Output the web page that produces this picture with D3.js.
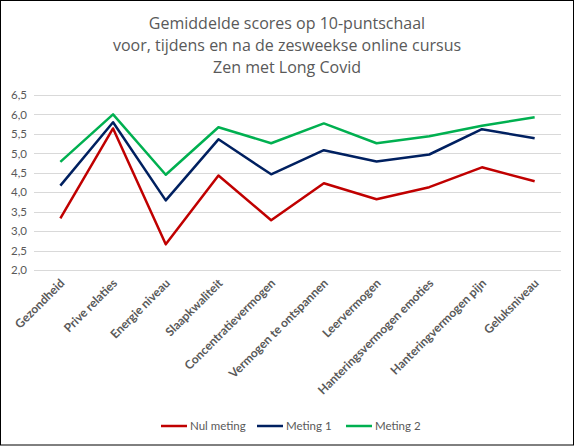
<!DOCTYPE html>
<html>
<head>
<meta charset="utf-8">
<script src="https://cdn.jsdelivr.net/npm/d3@7"></script>
<style>
  body { margin: 0; background: #fff; }
  svg { display: block; font-family: Lato, "Open Sans", sans-serif; }
</style>
</head>
<body>
<svg id="chart"></svg>
<script>
// data
const categories = ["Gezondheid", "Prive relaties", "Energie niveau", "Slaapkwaliteit",
  "Concentratievermogen", "Vermogen te ontspannen", "Leervermogen",
  "Hanteringsvermogen emoties", "Hanteringvermogen pijn", "Geluksniveau"]
const nulMeting = [3.33, 5.64, 2.66, 4.43, 3.28, 4.23, 3.82, 4.13, 4.64, 4.28]
const meting1 = [4.17, 5.80, 3.79, 5.36, 4.46, 5.08, 4.79, 4.97, 5.62, 5.39]
const meting2 = [4.78, 6.00, 4.45, 5.67, 5.26, 5.77, 5.26, 5.44, 5.71, 5.93]
const seriesNames = ["Nul meting", "Meting 1", "Meting 2"]
const yTicks = [2.0, 2.5, 3.0, 3.5, 4.0, 4.5, 5.0, 5.5, 6.0, 6.5]
const titleLines = ["Gemiddelde scores op 10-puntschaal",
  "voor, tijdens en na de zesweekse online cursus", "Zen met Long Covid"]

const colors = ["#C00000", "#002060", "#00B050"]
const series = [nulMeting, meting1, meting2]

const W = 575, H = 446
const plot = { left: 34, right: 561, top: 95, bottom: 270 }

const svg = d3.select("#chart").attr("width", W).attr("height", H)

svg.append("rect")
  .attr("x", 0.5).attr("y", 0.5).attr("width", 573).attr("height", 444.5)
  .attr("fill", "#fff").attr("stroke", "#000").attr("stroke-width", 1)

// title
svg.append("g").selectAll("text").data(titleLines).join("text")
  .attr("x", 287).attr("y", (d, i) => 29 + i * 22)
  .attr("text-anchor", "middle")
  .attr("fill", "#595959")
  .style("font-family", "'Open Sans', sans-serif")
  .style("font-size", "16px")
  .text(d => d)

const xScale = d3.scalePoint().domain(categories).range([plot.left, plot.right]).padding(0.5)
const yScale = d3.scaleLinear().domain([2, 6.5]).range([plot.bottom, plot.top])

// gridlines
svg.append("g").selectAll("line").data(yTicks).join("line")
  .attr("x1", plot.left).attr("x2", plot.right)
  .attr("y1", d => Math.round(yScale(d)) + 0.5).attr("y2", d => Math.round(yScale(d)) + 0.5)
  .attr("stroke", "#d9d9d9").attr("stroke-width", 1)

// y axis labels
const yAxis = d3.axisLeft(yScale).tickValues(yTicks).tickSize(0).tickPadding(0)
  .tickFormat(d => d3.format(".1f")(d).replace(".", ","))
const yAxisGroup = svg.append("g").attr("transform", `translate(${plot.left - 7},0)`).call(yAxis)
yAxisGroup.select(".domain").remove()
yAxisGroup.selectAll("text").attr("fill", "#595959").style("font-size", "11.5px")
  .style("font-family", "Lato, sans-serif")

// x axis labels
svg.append("g").selectAll("text").data(categories).join("text")
  .attr("transform", d => `translate(${xScale(d) + 5},${plot.bottom + 14}) rotate(-45)`)
  .attr("text-anchor", "end")
  .attr("fill", "#595959")
  .style("font-size", "12px")
  .style("font-weight", "bold")
  .text(d => d)

// lines
const line = d3.line().x((d, i) => xScale(categories[i])).y(d => yScale(d))
svg.append("g").selectAll("path").data(series).join("path")
  .attr("d", d => line(d))
  .attr("fill", "none")
  .attr("stroke", (d, i) => colors[i])
  .attr("stroke-width", 2.5)
  .attr("stroke-linejoin", "round")

// legend
const legendX = [161, 257, 346]
const legend = svg.append("g").selectAll("g").data(seriesNames).join("g")
  .attr("transform", (d, i) => `translate(${legendX[i]},426)`)
legend.append("line").attr("x1", 0).attr("x2", 26).attr("y1", 0).attr("y2", 0)
  .attr("stroke", (d, i) => colors[i]).attr("stroke-width", 2.5)
legend.append("text").attr("x", 29).attr("y", 4)
  .attr("fill", "#595959").style("font-size", "11.5px").text(d => d)
</script>
</body>
</html>
